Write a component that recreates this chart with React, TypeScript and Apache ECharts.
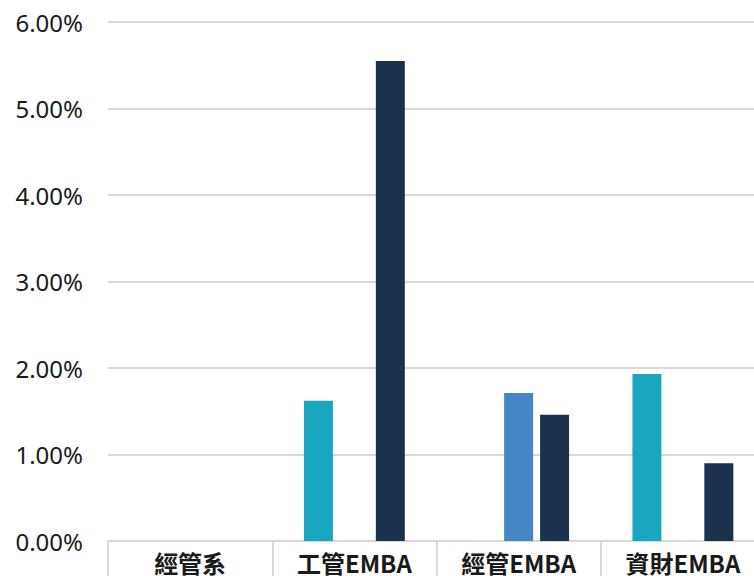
import React, { useEffect, useRef } from "react";
import * as echarts from "echarts";

const categories = ["經管系", "工管EMBA", "經管EMBA", "資財EMBA"];
const seriesA = [null, 1.62, null, 1.93];
const seriesB = [null, null, 1.71, null];
const seriesC = [null, 5.55, 1.46, 0.9];
const yTicks = { min: 0, max: 6, interval: 1 };

export default function App() {
  const ref = useRef<HTMLDivElement>(null);
  useEffect(() => {
    const chart = echarts.init(ref.current!, null, { renderer: "svg" });
    const font = '"Noto Sans", "Noto Sans CJK TC", sans-serif';
    const barCommon = { type: "bar", barWidth: 29, barGap: "24%" };
    chart.setOption({
      animation: false,
      grid: { left: 108, right: -11, top: 22, bottom: 35, outerBoundsMode: "none", containLabel: false },
      xAxis: {
        type: "category",
        data: categories,
        axisLine: { show: true, lineStyle: { color: "#d9d9d9", width: 2 } },
        axisTick: { show: true, length: 45, lineStyle: { color: "#d9d9d9", width: 2 } },
        axisLabel: {
          color: "#1a1a1a",
          fontSize: 24,
          fontWeight: "bold",
          fontFamily: '"Noto Sans CJK TC", "Noto Sans", sans-serif',
          margin: 9,
        },
      },
      yAxis: {
        type: "value",
        min: yTicks.min,
        max: yTicks.max,
        interval: yTicks.interval,
        axisLine: { show: false },
        axisTick: { show: false },
        splitLine: { lineStyle: { color: "#d9d9d9", width: 2 } },
        axisLabel: {
          color: "#1a1a1a",
          fontSize: 24,
          fontFamily: font,
          margin: 25,
          formatter: (v: number) => v.toFixed(2) + "%",
        },
      },
      series: [
        { ...barCommon, name: "A", data: seriesA, itemStyle: { color: "#1ba6bf" } },
        { ...barCommon, name: "B", data: seriesB, itemStyle: { color: "#4586c7" } },
        { ...barCommon, name: "C", data: seriesC, itemStyle: { color: "#1a324d" } },
      ],
    });
    return () => chart.dispose();
  }, []);
  return (
    <div
      ref={ref}
      style={{ position: "fixed", left: 0, top: 0, width: 754, height: 576, background: "#fff" }}
    />
  );
}
